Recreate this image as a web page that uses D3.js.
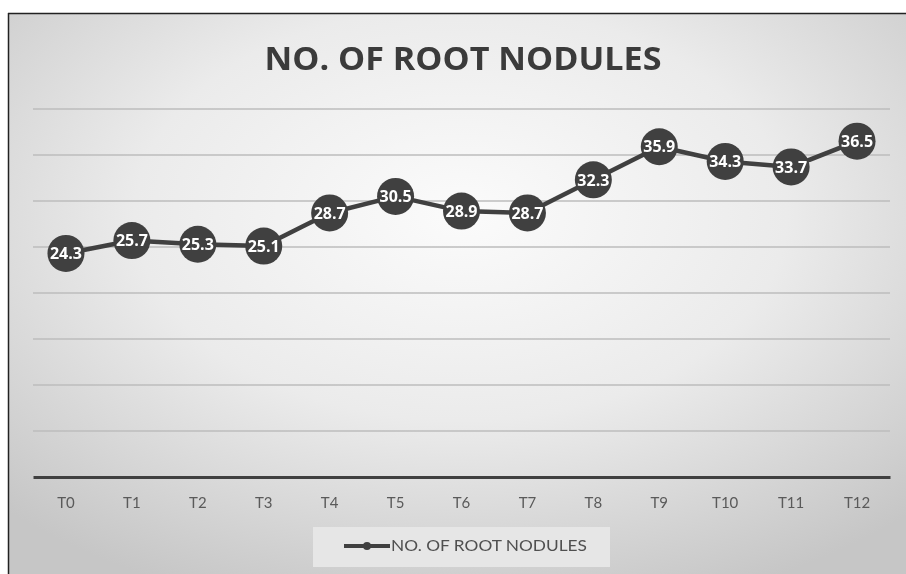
<!DOCTYPE html>
<html>
<head>
<meta charset="utf-8">
<script src="https://cdn.jsdelivr.net/npm/d3@7"></script>
<style>
  html, body { margin: 0; padding: 0; background: #ffffff; }
  svg { display: block; }
</style>
</head>
<body>
<div id="chart"></div>
<script>
// Root nodule counts per treatment
const categories = ["T0","T1","T2","T3","T4","T5","T6","T7","T8","T9","T10","T11","T12"];
const nodules = [24.3, 25.7, 25.3, 25.1, 28.7, 30.5, 28.9, 28.7, 32.3, 35.9, 34.3, 33.7, 36.5];
const gridTicks = [5, 10, 15, 20, 25, 30, 35, 40];
const seriesName = "NO. OF ROOT NODULES";
const chartTitle = "NO. OF ROOT NODULES";

const W = 906, H = 574;
const svg = d3.select("#chart").append("svg").attr("width", W).attr("height", H);

// Panel background: soft radial light-to-grey shading
const defs = svg.append("defs");
const grad = defs.append("radialGradient").attr("id", "bg")
  .attr("cx", "50%").attr("cy", "35%").attr("r", "72%");
grad.append("stop").attr("offset", "0%").attr("stop-color", "#fbfbfb");
grad.append("stop").attr("offset", "50%").attr("stop-color", "#ebebeb");
grad.append("stop").attr("offset", "100%").attr("stop-color", "#c6c6c6");

const soft = defs.append("filter").attr("id", "soft");
soft.append("feGaussianBlur").attr("stdDeviation", 0.6);

svg.append("rect").attr("x", 8).attr("y", 13).attr("width", W).attr("height", H)
  .attr("fill", "url(#bg)");
svg.append("line").attr("x1", 8).attr("x2", W).attr("y1", 13.5).attr("y2", 13.5)
  .attr("stroke", "#222").attr("stroke-width", 1.5);
svg.append("line").attr("x1", 8.5).attr("x2", 8.5).attr("y1", 13).attr("y2", H)
  .attr("stroke", "#222").attr("stroke-width", 1.5);

const x = d3.scaleBand().domain(categories).range([33, 890]);
const y = d3.scaleLinear().domain([0, 40]).range([477, 109]);

const g = svg.append("g").attr("filter", "url(#soft)");

// Horizontal gridlines
g.append("g").selectAll("line").data(gridTicks).join("line")
  .attr("x1", 33).attr("x2", 890)
  .attr("y1", d => y(d)).attr("y2", d => y(d))
  .attr("stroke", "#bdbdbd").attr("stroke-width", 1.5);

// Category axis
const xAxis = g.append("g").attr("transform", `translate(0,${y(0)})`)
  .call(d3.axisBottom(x).tickSize(0).tickPadding(20));
xAxis.select(".domain").attr("stroke", "#404040").attr("stroke-width", 3);
xAxis.selectAll("text").attr("font-family", "Lato, 'Open Sans', sans-serif")
  .attr("font-size", 15).attr("fill", "#5a5a5a");

// Series line
const line = d3.line().x((d, i) => x(categories[i]) + x.bandwidth() / 2).y(d => y(d));
g.append("path").datum(nodules).attr("d", line)
  .attr("fill", "none").attr("stroke", "#404040").attr("stroke-width", 4.5)
  .attr("stroke-linejoin", "round");

// Markers
g.append("g").selectAll("circle").data(nodules).join("circle")
  .attr("cx", (d, i) => x(categories[i]) + x.bandwidth() / 2)
  .attr("cy", d => y(d)).attr("r", 18.5)
  .attr("fill", "#404040");

// Value labels
g.append("g").selectAll("text").data(nodules).join("text")
  .attr("x", (d, i) => x(categories[i]) + x.bandwidth() / 2)
  .attr("y", d => y(d)).attr("dy", "0.36em")
  .attr("text-anchor", "middle")
  .attr("font-family", "'Open Sans', sans-serif").attr("font-weight", "bold")
  .attr("font-size", 16).attr("fill", "#ffffff")
  .text(d => d.toFixed(1));

// Title
g.append("text").attr("x", 463).attr("y", 70).attr("text-anchor", "middle")
  .attr("font-family", "'Open Sans', sans-serif").attr("font-weight", "bold")
  .attr("font-size", 32).attr("fill", "#3a3a3a")
  .attr("textLength", 397).attr("lengthAdjust", "spacingAndGlyphs")
  .text(chartTitle);

// Legend
const lg = g.append("g");
lg.append("rect").attr("x", 313).attr("y", 527).attr("width", 297).attr("height", 40)
  .attr("fill", "#e6e6e6");
lg.append("line").attr("x1", 344).attr("x2", 390).attr("y1", 546).attr("y2", 546)
  .attr("stroke", "#404040").attr("stroke-width", 4);
lg.append("circle").attr("cx", 367).attr("cy", 546).attr("r", 4).attr("fill", "#404040");
lg.append("text").attr("x", 391).attr("y", 546).attr("dy", "0.35em")
  .attr("font-family", "Lato, 'Open Sans', sans-serif").attr("font-size", 15)
  .attr("fill", "#505050")
  .attr("textLength", 196).attr("lengthAdjust", "spacingAndGlyphs")
  .text(seriesName);
</script>
</body>
</html>
